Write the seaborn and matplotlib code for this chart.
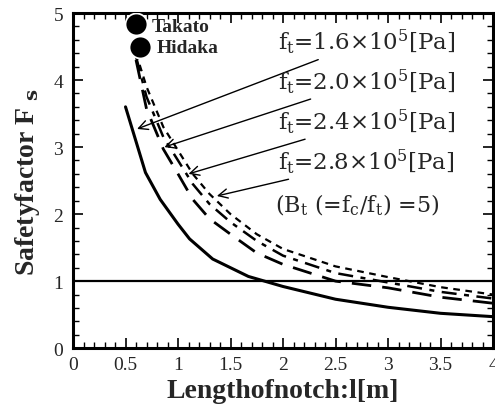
import pandas as pd
import seaborn as sns
import matplotlib.pyplot as plt
from matplotlib.ticker import MultipleLocator

# notch length [m]
l_16 = [0.5, 0.69, 0.83, 1.0, 1.11, 1.33, 1.67, 2.0, 2.5, 3.0, 3.5, 4.0]
fs_16 = [3.6, 2.62, 2.22, 1.85, 1.63, 1.33, 1.07, 0.92, 0.73, 0.61, 0.52, 0.47]

l_dash = [0.6, 0.7, 0.86, 1.0, 1.14, 1.3, 1.5, 1.75, 2.0, 2.5, 3.0, 3.5, 4.0]
fs_20 = [4.3, 3.57, 2.97, 2.6, 2.22, 1.93, 1.7, 1.42, 1.25, 1.0, 0.9, 0.76, 0.67]
fs_24 = [4.35, 3.75, 3.15, 2.8, 2.45, 2.15, 1.88, 1.6, 1.38, 1.12, 0.98, 0.84, 0.74]
fs_28 = [4.4, 3.9, 3.3, 2.95, 2.6, 2.3, 2.0, 1.7, 1.48, 1.22, 1.06, 0.91, 0.8]

sites = ["Takato", "Hidaka"]
site_l = [0.6, 0.64]
site_fs = [4.84, 4.5]

labels = [r"f$_\mathrm{t}$=1.6×10$^5$[Pa]",
          r"f$_\mathrm{t}$=2.0×10$^5$[Pa]",
          r"f$_\mathrm{t}$=2.4×10$^5$[Pa]",
          r"f$_\mathrm{t}$=2.8×10$^5$[Pa]"]
label_y = [4.58, 3.99, 3.39, 2.79]
arrow_tips = [(0.61, 3.27), (0.87, 3.0), (1.1, 2.6), (1.37, 2.27)]

sns.set_style("ticks")
plt.rcParams["font.family"] = ["Liberation Serif", "DejaVu Serif"]
plt.rcParams["mathtext.fontset"] = "dejavuserif"

fig = plt.figure(figsize=(4.95, 4.06), dpi=100)
ax = fig.add_axes([0.1475, 0.14, 0.8485, 0.8255])

sns.lineplot(x=l_16, y=fs_16, ax=ax, color="black", lw=2.2)
sns.lineplot(x=l_dash, y=fs_20, ax=ax, color="black", lw=2.0)
ax.lines[-1].set_dashes([7, 4])
sns.lineplot(x=l_dash, y=fs_24, ax=ax, color="black", lw=1.8)
ax.lines[-1].set_dashes([6, 3, 2, 3])
sns.lineplot(x=l_dash, y=fs_28, ax=ax, color="black", lw=1.6)
ax.lines[-1].set_dashes([3, 2.5])

ax.axhline(1, color="black", lw=1.6)

sns.scatterplot(x=site_l, y=site_fs, ax=ax, color="black", s=250, zorder=5)
ax.text(0.75, 4.8, sites[0], fontsize=14, fontweight="bold", va="center")
ax.text(0.80, 4.48, sites[1], fontsize=14, fontweight="bold", va="center")

serif2 = ["DejaVu Serif"]
for lab, yy, tip in zip(labels, label_y, arrow_tips):
    ax.annotate(lab, xy=tip, xytext=(1.95, yy), fontsize=16.5, va="center",
                family=serif2,
                arrowprops=dict(arrowstyle="->", color="black", lw=1.0,
                                shrinkA=2, shrinkB=0))
ax.text(1.92, 2.15, r"(B$_\mathrm{t}$ (=f$_\mathrm{c}$/f$_\mathrm{t}$) =5)",
        fontsize=16, va="center", family=serif2)

ax.set_xlim(0, 4)
ax.set_ylim(0, 5)
ax.xaxis.set_major_locator(MultipleLocator(0.5))
ax.xaxis.set_minor_locator(MultipleLocator(0.1))
ax.yaxis.set_major_locator(MultipleLocator(1))
ax.yaxis.set_minor_locator(MultipleLocator(0.2))
ax.set_xticks([0, 0.5, 1, 1.5, 2, 2.5, 3, 3.5, 4])
ax.set_xticklabels(["0", "0.5", "1", "1.5", "2", "2.5", "3", "3.5", "4"])
ax.tick_params(which="both", direction="in", top=True, right=True,
               labelsize=14, color="black")
ax.tick_params(axis="x", pad=6)
ax.tick_params(axis="y", pad=7)
ax.tick_params(which="major", length=7, width=1.2)
ax.tick_params(which="minor", length=4, width=1.0)
for sp in ax.spines.values():
    sp.set_linewidth(2.2)
    sp.set_color("black")

ax.set_xlabel("Lengthofnotch:l[m]", fontsize=20, fontweight="bold", labelpad=3)
ax.set_ylabel(r"Safetyfactor F $_{\mathbf{s}}$", fontsize=20, fontweight="bold", labelpad=8)

fig.savefig("out.png", dpi=100)
